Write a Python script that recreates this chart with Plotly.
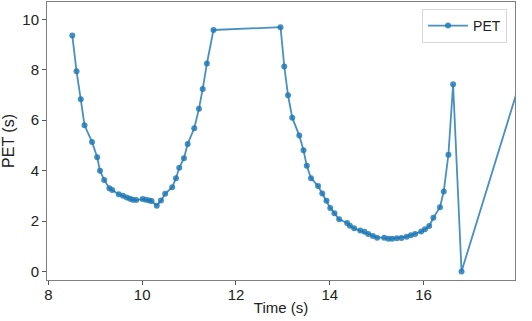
import plotly.graph_objects as go

# PET over time
time_s = [
    8.51, 8.60, 8.69, 8.77, 8.93, 9.04, 9.10, 9.19, 9.30, 9.36,
    9.50, 9.59, 9.67, 9.74, 9.80, 9.87, 10.01, 10.08, 10.15, 10.20,
    10.31, 10.40, 10.49, 10.64, 10.72, 10.79, 10.89, 10.97, 11.11, 11.21,
    11.29, 11.38, 11.52,
    12.95, 13.03, 13.11, 13.20, 13.35, 13.44, 13.51, 13.60, 13.75, 13.84,
    13.93, 14.01, 14.10, 14.20, 14.37, 14.43, 14.52, 14.65, 14.74, 14.82,
    14.92, 15.01, 15.16, 15.25, 15.33, 15.43, 15.53, 15.64, 15.73, 15.82,
    15.95, 16.03, 16.12, 16.21, 16.35, 16.43, 16.53, 16.63, 16.81, 18.40,
]
pet_s = [
    9.36, 7.94, 6.83, 5.80, 5.14, 4.53, 3.99, 3.63, 3.30, 3.23,
    3.06, 3.00, 2.93, 2.88, 2.84, 2.83, 2.87, 2.84, 2.81, 2.79,
    2.61, 2.81, 3.08, 3.34, 3.70, 4.11, 4.49, 5.06, 5.68, 6.45,
    7.24, 8.25, 9.58,
    9.69, 8.13, 6.99, 6.10, 5.39, 4.81, 4.19, 3.70, 3.39, 3.09,
    2.80, 2.52, 2.31, 2.07, 1.92, 1.81, 1.71, 1.62, 1.57, 1.49,
    1.41, 1.34, 1.34, 1.30, 1.30, 1.32, 1.33, 1.38, 1.44, 1.49,
    1.58, 1.67, 1.80, 2.13, 2.55, 3.17, 4.63, 7.43, 0.00, 9.59,
]

x_ticks = [8, 10, 12, 14, 16]
y_ticks = [0, 2, 4, 6, 8, 10]

line_color = "rgba(31,119,180,0.82)"
font_family = "Liberation Sans, Arial, sans-serif"

fig = go.Figure()
fig.add_trace(go.Scatter(
    x=time_s, y=pet_s, name="PET", mode="lines+markers",
    line=dict(color=line_color, width=1.8),
    marker=dict(color=line_color, size=6),
))

axis_style = dict(
    showline=True, mirror=True, linecolor="#808080", linewidth=1,
    ticks="outside", ticklen=4, tickcolor="#555555",
    showgrid=False, zeroline=False, automargin=False,
    tickfont=dict(size=15, color="#222222", family=font_family),
)

fig.update_layout(
    width=532, height=321,
    paper_bgcolor="white", plot_bgcolor="white",
    margin=dict(l=47, r=17, t=2, b=41),
    font=dict(family=font_family, color="#222222"),
    xaxis=dict(range=[7.97, 17.95], tickvals=x_ticks, ticklabelstandoff=-3,
               title=dict(text="Time (s)", font=dict(size=15), standoff=0), **axis_style),
    yaxis=dict(range=[-0.34, 10.69], tickvals=y_ticks,
               title=dict(text="PET (s)", font=dict(size=16), standoff=6), **axis_style),
    showlegend=True,
    legend=dict(
        x=0.983, y=0.975, xanchor="right", yanchor="top",
        bordercolor="#d8d8d8", borderwidth=1, bgcolor="white",
        font=dict(size=14, color="#222222"),
        itemwidth=40,
    ),
)

# the page's default body margin would shift the figure by 8px
fig.write_html("out.html", config={"displayModeBar": False},
               post_script="document.body.style.margin='0';")
